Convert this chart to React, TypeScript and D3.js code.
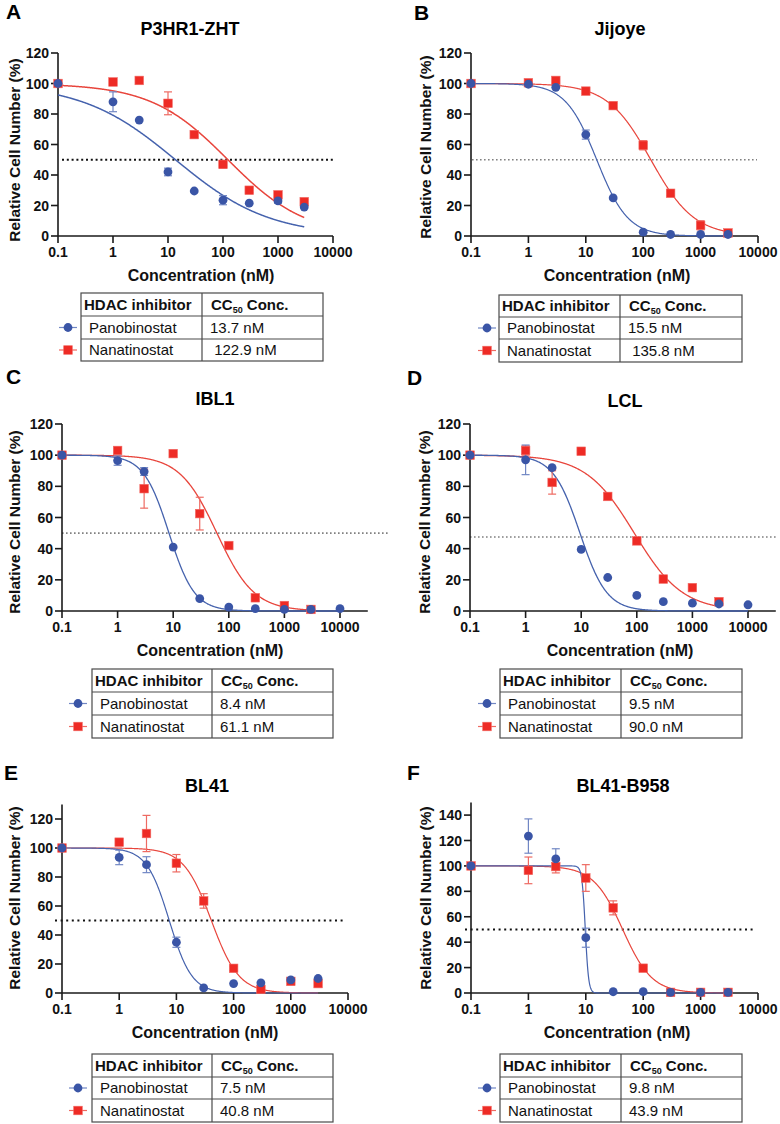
import React from "react";
import * as d3 from "d3";

// ---------- shared categories / ticks ----------
const CONC = [0.1, 1, 3, 10, 30, 100, 300, 1000, 3000];
const CONC_EXT = [0.1, 1, 3, 10, 30, 100, 300, 1000, 3000, 10000];
const X_TICKS = [0.1, 1, 10, 100, 1000, 10000];
const X_TICK_LABELS = ["0.1", "1", "10", "100", "1000", "10000"];
const Y_TICKS_120 = [0, 20, 40, 60, 80, 100, 120];
const Y_TICKS_140 = [0, 20, 40, 60, 80, 100, 120, 140];
const DRUGS = ["Panobinostat", "Nanatinostat"];
const HEADER_1 = "HDAC inhibitor";
const HEADER_2_MAIN = "CC";
const HEADER_2_SUB = "50";
const HEADER_2_REST = " Conc.";
const X_TITLE = "Concentration (nM)";
const Y_TITLE = "Relative Cell Number (%)";

// ---------- Panel A : P3HR1-ZHT ----------
const A_PANO = [100, 88, 76, 42, 29.5, 23.5, 21.5, 23, 19];
const A_PANO_SD = [0, 6.5, 1, 2.5, 1, 3, 1, 1.5, 1];
const A_NANA = [100, 101, 102, 87, 66.5, 47, 30, 27, 22.5];
const A_NANA_SD = [0, 1, 1, 7.5, 1.5, 2.5, 1.5, 1.5, 1.5];
const A_PANO_FIT = [100, 0, 13.7, 0.51]; // top, bottom, CC50, hill
const A_NANA_FIT = [100, 0, 122.9, 0.62];
const A_CC50 = ["13.7 nM", " 122.9 nM"];

// ---------- Panel B : Jijoye ----------
const B_PANO = [100, 99.5, 97.5, 66.5, 25, 2.5, 1, 1, 1];
const B_PANO_SD = [0, 1, 1, 3, 1, 1, 0.5, 0.5, 0.5];
const B_NANA = [100, 100.5, 102, 95, 85.5, 59.5, 28, 7, 2];
const B_NANA_SD = [0, 0.5, 1, 1.5, 1.5, 3, 1.5, 3, 1];
const B_PANO_FIT = [100, 0, 15.5, 1.6];
const B_NANA_FIT = [100, 0, 135.8, 1.15];
const B_CC50 = ["15.5 nM", " 135.8 nM"];

// ---------- Panel C : IBL1 ----------
const C_PANO = [100, 96.5, 89.5, 41, 8, 2.5, 1.5, 1, 1, 1.5];
const C_PANO_SD = [0, 3, 2.5, 1, 1, 0.5, 0.5, 0.5, 0.5, 0.5];
const C_NANA = [100, 103, 78.5, 101, 62.5, 42, 8.5, 3.5, 1];
const C_NANA_SD = [0, 1, 12.5, 1, 10.5, 1, 1, 1, 0.5];
const C_PANO_FIT = [100, 0, 8.4, 1.9];
const C_NANA_FIT = [100, 0, 61.1, 1.3];
const C_CC50 = ["8.4 nM", "61.1 nM"];

// ---------- Panel D : LCL ----------
const D_PANO = [100, 97, 92, 39.5, 21.5, 10, 6, 5, 4.5, 4];
const D_PANO_SD = [0, 9.5, 1, 1, 1, 1, 0.5, 0.5, 0.5, 0.5];
const D_NANA = [100, 103, 82.5, 102.5, 73.5, 45, 20.5, 15, 6];
const D_NANA_SD = [0, 3, 7.5, 1, 2, 1.5, 1.5, 1, 1];
const D_PANO_FIT = [100, 0, 9.5, 1.8];
const D_NANA_FIT = [100, 0, 90.0, 1.0];
const D_CC50 = ["9.5 nM", "90.0 nM"];

// ---------- Panel E : BL41 ----------
const E_PANO = [100, 93.5, 88.5, 35, 3.5, 6.5, 7, 9, 10];
const E_PANO_SD = [0, 5, 5.5, 3.5, 1, 1, 1, 1, 1];
const E_NANA = [100, 104, 110, 89.5, 63.5, 17, 2.5, 8, 6.5];
const E_NANA_SD = [0, 1, 12.5, 6, 5, 1.5, 1, 1, 1];
const E_PANO_FIT = [100, 0, 7.5, 2.2];
const E_NANA_FIT = [100, 0, 40.8, 1.8];
const E_CC50 = ["7.5 nM", "40.8 nM"];

// ---------- Panel F : BL41-B958 ----------
const F_PANO = [100, 123.5, 105.5, 43.5, 1, 1, 0.5, 0.5, 0.5];
const F_PANO_SD = [0, 13.5, 8, 7.5, 0.5, 0.5, 0.5, 0.5, 0.5];
const F_NANA = [100, 96.5, 99.5, 90.5, 67, 19.5, 0.5, 0.5, 0.5];
const F_NANA_SD = [0, 10.5, 5, 10.5, 5.5, 1.5, 0.5, 0.5, 0.5];
const F_PANO_FIT = [100, 0, 9.8, 15];
const F_NANA_FIT = [100, 0, 43.9, 1.7];
const F_CC50 = ["9.8 nM", "43.9 nM"];

// ---------- styles ----------
const FONT = "'Liberation Sans', Arial, Helvetica, sans-serif";
const BLUE = "#3a55a6";
const BLUE_LINE = "#4562ad";
const BLUE_ERR = "#7187c4";
const RED = "#ee2b25";
const RED_LINE = "#e8453c";
const RED_ERR = "#ee6a62";
const AXIS = "#1a1a1a";

type Series = {
  conc: number[];
  mean: number[];
  sd: number[];
  fit: number[];
  shape: "circle" | "square";
};

type Layout = {
  letter: string; letterX: number; letterY: number;
  title: string; titleX: number; titleY: number;
  axisX: number; x10000: number; xAxisEnd: number;
  yZero: number; y120: number; yTop: number; yTicks: number[];
  yTitleX: number; yTitleY: number; xTitleX: number;
  refY: number; refX0: number; refX1: number; refColor: string; refDash: string; refWidth: number;
  curveWidth: number;
  tLeft: number; tMid: number; tRight: number; tTop: number; tRows: number[]; markerX: number;
  cc50: string[];
};

const logistic = (fit: number[]) => (c: number) =>
  fit[1] + (fit[0] - fit[1]) / (1 + Math.pow(c / fit[2], fit[3]));

function Marker({ shape, cx, cy }: { shape: string; cx: number; cy: number }) {
  if (shape === "circle") return <circle cx={cx} cy={cy} r={4.4} fill={BLUE} />;
  return <rect x={cx - 4.3} y={cy - 4.3} width={8.6} height={8.6} fill={RED} stroke="#f26a64" strokeWidth={0.6} />;
}

function Panel({ L, pano, nana }: { L: Layout; pano: Series; nana: Series }) {
  const x = d3.scaleLog().domain([0.1, 10000]).range([L.axisX, L.x10000]);
  const y = d3.scaleLinear().domain([0, 120]).range([L.yZero, L.y120]);
  const xEnd = x(L.xAxisEnd);
  const yTopPx = y(L.yTop);

  const curve = (s: Series) => {
    const f = logistic(s.fit);
    const c0 = s.conc[0];
    const c1 = s.conc[s.conc.length - 1];
    const pts = d3.range(0, 601).map((i) => c0 * Math.pow(c1 / c0, i / 600));
    return d3.line<number>().x((c) => x(c)).y((c) => y(f(c)))(pts) || "";
  };

  const errBars = (s: Series, col: string) =>
    s.conc.map((c, i) => {
      const sd = s.sd[i];
      if (sd < 1.5) return null;
      const cx = x(c);
      const y1 = y(s.mean[i] + sd);
      const y2 = y(s.mean[i] - sd);
      return (
        <g key={"e" + i} stroke={col} strokeWidth={1.2}>
          <line x1={cx} x2={cx} y1={y1} y2={y2} />
          <line x1={cx - 4} x2={cx + 4} y1={y1} y2={y1} />
          <line x1={cx - 4} x2={cx + 4} y1={y2} y2={y2} />
        </g>
      );
    });

  const rowMid = (i: number) => (L.tRows[i] + L.tRows[i + 1]) / 2;

  return (
    <g fontFamily={FONT}>
      <text x={L.letterX} y={L.letterY} fontSize={21} fontWeight="bold" fill="#000">{L.letter}</text>
      <text x={L.titleX} y={L.titleY} fontSize={18} fontWeight="bold" textAnchor="middle" fill="#000">{L.title}</text>

      {/* reference line */}
      <line x1={L.refX0} x2={L.refX1} y1={y(L.refY)} y2={y(L.refY)} stroke={L.refColor}
        strokeWidth={L.refWidth} strokeDasharray={L.refDash} />

      {/* axes */}
      <line x1={L.axisX} x2={L.axisX} y1={yTopPx} y2={L.yZero} stroke={AXIS} strokeWidth={1.6} />
      <line x1={L.axisX} x2={xEnd} y1={L.yZero} y2={L.yZero} stroke={AXIS} strokeWidth={1.6} />
      {L.yTicks.map((t) => (
        <g key={"yt" + t}>
          <line x1={L.axisX - 7} x2={L.axisX} y1={y(t)} y2={y(t)} stroke={AXIS} strokeWidth={1.6} />
          <text x={L.axisX - 9} y={y(t)} dy="0.36em" textAnchor="end" fontSize={14} fontWeight="bold" fill="#111">{t}</text>
        </g>
      ))}
      {X_TICKS.map((t, i) => (
        <g key={"xt" + t}>
          <line x1={x(t)} x2={x(t)} y1={L.yZero} y2={L.yZero + 7} stroke={AXIS} strokeWidth={1.6} />
          <text x={x(t)} y={L.yZero + 21} textAnchor="middle" fontSize={14} fontWeight="bold" fill="#111">{X_TICK_LABELS[i]}</text>
        </g>
      ))}
      <text x={L.xTitleX} y={L.yZero + 45} textAnchor="middle" fontSize={16} fontWeight="bold" fill="#111">{X_TITLE}</text>
      <text transform={`translate(${L.yTitleX},${L.yTitleY}) rotate(-90)`} dy="0.36em" textAnchor="middle"
        fontSize={15.5} fontWeight="bold" fill="#111">{Y_TITLE}</text>

      {/* fitted curves */}
      <path d={curve(nana)} fill="none" stroke={RED_LINE} strokeWidth={L.curveWidth} />
      <path d={curve(pano)} fill="none" stroke={BLUE_LINE} strokeWidth={L.curveWidth} />

      {/* error bars */}
      {errBars(nana, RED_ERR)}
      {errBars(pano, BLUE_ERR)}

      {/* points */}
      {nana.conc.map((c, i) => <Marker key={"n" + i} shape="square" cx={x(c)} cy={y(nana.mean[i])} />)}
      {pano.conc.map((c, i) => <Marker key={"p" + i} shape="circle" cx={x(c)} cy={y(pano.mean[i])} />)}

      {/* table */}
      <g stroke="#4a4a4a" strokeWidth={1.2} fill="none">
        <rect x={L.tLeft} y={L.tRows[0]} width={L.tRight - L.tLeft} height={L.tRows[3] - L.tRows[0]} />
        <line x1={L.tLeft} x2={L.tRight} y1={L.tRows[1]} y2={L.tRows[1]} />
        <line x1={L.tLeft} x2={L.tRight} y1={L.tRows[2]} y2={L.tRows[2]} />
        <line x1={L.tMid} x2={L.tMid} y1={L.tRows[0]} y2={L.tRows[3]} />
      </g>
      <text x={L.tLeft + 3} y={rowMid(0)} dy="0.36em" fontSize={15} fontWeight="bold" fill="#111">{HEADER_1}</text>
      <text x={L.tMid + 9} y={rowMid(0)} dy="0.36em" fontSize={15} fontWeight="bold" fill="#111">
        {HEADER_2_MAIN}
        <tspan fontSize={9} dy="3">{HEADER_2_SUB}</tspan>
        <tspan dy="-3">{HEADER_2_REST}</tspan>
      </text>
      {DRUGS.map((d, i) => (
        <g key={d}>
          <line x1={L.markerX - 9} x2={L.markerX + 9} y1={rowMid(i + 1)} y2={rowMid(i + 1)}
            stroke={i === 0 ? BLUE_ERR : RED_ERR} strokeWidth={1.2} />
          <Marker shape={i === 0 ? "circle" : "square"} cx={L.markerX} cy={rowMid(i + 1)} />
          <text x={L.tLeft + 8} y={rowMid(i + 1)} dy="0.36em" fontSize={15} fill="#111">{d}</text>
          <text x={L.tMid + 8} y={rowMid(i + 1)} dy="0.36em" fontSize={15} fill="#111" style={{ whiteSpace: "pre" }}>{L.cc50[i]}</text>
        </g>
      ))}
    </g>
  );
}

const GRAY_DOT = "#808080";

const LAYOUTS: Layout[] = [
  {
    letter: "A", letterX: 6, letterY: 19, title: "P3HR1-ZHT", titleX: 190, titleY: 35,
    axisX: 58, x10000: 333, xAxisEnd: 10000, yZero: 236, y120: 53, yTop: 120, yTicks: Y_TICKS_120,
    yTitleX: 14, yTitleY: 150, xTitleX: 201,
    refY: 50, refX0: 62, refX1: 333, refColor: "#111", refDash: "2,2.8", refWidth: 2, curveWidth: 1.5,
    tLeft: 81, tMid: 202, tRight: 323, tTop: 293, tRows: [293, 316, 339, 361], markerX: 68, cc50: A_CC50,
  },
  {
    letter: "B", letterX: 414, letterY: 20, title: "Jijoye", titleX: 620, titleY: 35,
    axisX: 471, x10000: 758, xAxisEnd: 10000, yZero: 236, y120: 53, yTop: 120, yTicks: Y_TICKS_120,
    yTitleX: 425, yTitleY: 147, xTitleX: 617,
    refY: 50, refX0: 472, refX1: 757, refColor: GRAY_DOT, refDash: "1.6,2.4", refWidth: 1.6, curveWidth: 1.2,
    tLeft: 499, tMid: 620, tRight: 742, tTop: 295, tRows: [295, 317, 339, 362], markerX: 487, cc50: B_CC50,
  },
  {
    letter: "C", letterX: 6, letterY: 384, title: "IBL1", titleX: 215, titleY: 405,
    axisX: 62, x10000: 340, xAxisEnd: Math.pow(10, 4.5), yZero: 611, y120: 424, yTop: 120, yTicks: Y_TICKS_120,
    yTitleX: 14, yTitleY: 522, xTitleX: 210,
    refY: 50, refX0: 62, refX1: 388, refColor: GRAY_DOT, refDash: "1.6,2.4", refWidth: 1.6, curveWidth: 1.3,
    tLeft: 92, tMid: 212, tRight: 333, tTop: 669, tRows: [669, 692, 715, 738], markerX: 78, cc50: C_CC50,
  },
  {
    letter: "D", letterX: 407, letterY: 385, title: "LCL", titleX: 625, titleY: 407,
    axisX: 470, x10000: 748, xAxisEnd: Math.pow(10, 4.5), yZero: 611, y120: 424, yTop: 120, yTicks: Y_TICKS_120,
    yTitleX: 424, yTitleY: 522, xTitleX: 620,
    refY: 47.5, refX0: 470, refX1: 778, refColor: GRAY_DOT, refDash: "1.6,2.4", refWidth: 1.6, curveWidth: 1.3,
    tLeft: 500, tMid: 621, tRight: 742, tTop: 669, tRows: [669, 692, 715, 738], markerX: 487, cc50: D_CC50,
  },
  {
    letter: "E", letterX: 4, letterY: 780, title: "BL41", titleX: 207, titleY: 792,
    axisX: 62, x10000: 348, xAxisEnd: 10000, yZero: 993, y120: 819, yTop: 130, yTicks: Y_TICKS_120,
    yTitleX: 14, yTitleY: 898, xTitleX: 205,
    refY: 50, refX0: 55, refX1: 343, refColor: "#111", refDash: "2,3.6", refWidth: 2, curveWidth: 1.2,
    tLeft: 92, tMid: 212, tRight: 333, tTop: 1054, tRows: [1054, 1077, 1099, 1122], markerX: 78, cc50: E_CC50,
  },
  {
    letter: "F", letterX: 407, letterY: 780, title: "BL41-B958", titleX: 623, titleY: 792,
    axisX: 471, x10000: 758, xAxisEnd: 10000, yZero: 993, y120: 840.5, yTop: 150, yTicks: Y_TICKS_140,
    yTitleX: 425, yTitleY: 898, xTitleX: 617,
    refY: 50, refX0: 465, refX1: 753, refColor: "#111", refDash: "2,3.6", refWidth: 2, curveWidth: 1.2,
    tLeft: 500, tMid: 621, tRight: 742, tTop: 1054, tRows: [1054, 1077, 1099, 1122], markerX: 487, cc50: F_CC50,
  },
];

const mk = (conc: number[], mean: number[], sd: number[], fit: number[], shape: "circle" | "square"): Series =>
  ({ conc: conc.slice(0, mean.length), mean, sd, fit, shape });

const PANEL_SERIES: { pano: Series; nana: Series }[] = [
  { pano: mk(CONC, A_PANO, A_PANO_SD, A_PANO_FIT, "circle"), nana: mk(CONC, A_NANA, A_NANA_SD, A_NANA_FIT, "square") },
  { pano: mk(CONC, B_PANO, B_PANO_SD, B_PANO_FIT, "circle"), nana: mk(CONC, B_NANA, B_NANA_SD, B_NANA_FIT, "square") },
  { pano: mk(CONC_EXT, C_PANO, C_PANO_SD, C_PANO_FIT, "circle"), nana: mk(CONC_EXT, C_NANA, C_NANA_SD, C_NANA_FIT, "square") },
  { pano: mk(CONC_EXT, D_PANO, D_PANO_SD, D_PANO_FIT, "circle"), nana: mk(CONC_EXT, D_NANA, D_NANA_SD, D_NANA_FIT, "square") },
  { pano: mk(CONC, E_PANO, E_PANO_SD, E_PANO_FIT, "circle"), nana: mk(CONC, E_NANA, E_NANA_SD, E_NANA_FIT, "square") },
  { pano: mk(CONC, F_PANO, F_PANO_SD, F_PANO_FIT, "circle"), nana: mk(CONC, F_NANA, F_NANA_SD, F_NANA_FIT, "square") },
];

export default function App() {
  return (
    <svg width={780} height={1124} viewBox="0 0 780 1124"
      style={{ position: "absolute", left: 0, top: 0, background: "#fff" }}>
      <rect x={0} y={0} width={780} height={1124} fill="#fff" />
      {LAYOUTS.map((L, i) => (
        <Panel key={L.letter} L={L} pano={PANEL_SERIES[i].pano} nana={PANEL_SERIES[i].nana} />
      ))}
    </svg>
  );
}
